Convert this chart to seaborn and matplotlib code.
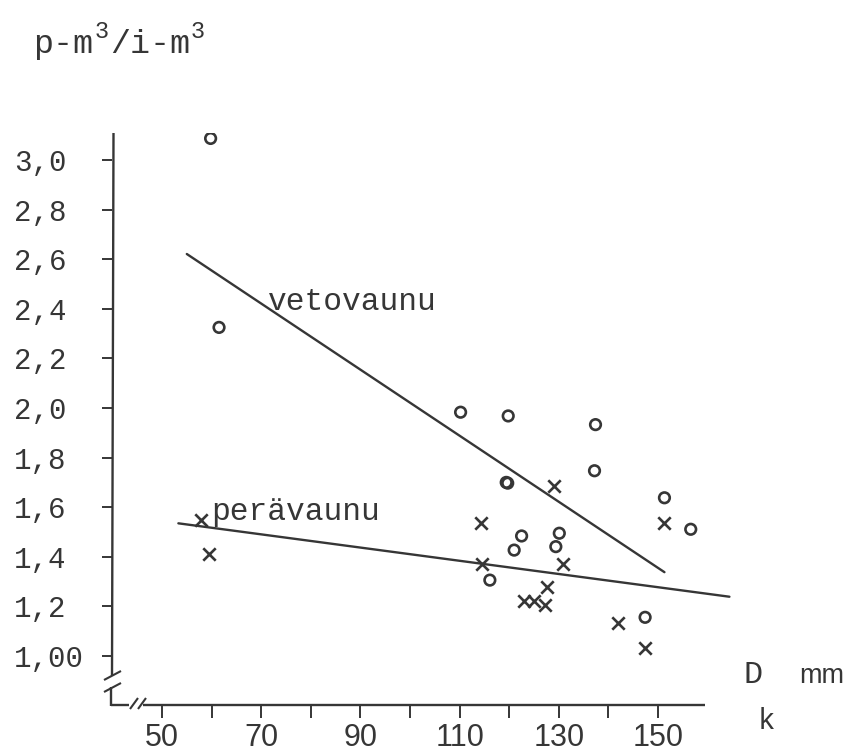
import matplotlib
matplotlib.use("Agg")
import matplotlib.pyplot as plt
from matplotlib import font_manager
from matplotlib.lines import Line2D
import numpy as np
import pandas as pd
import seaborn as sns

# ---------------- data ----------------
veto_x = [59.8, 61.5, 110.2, 119.8, 137.4, 137.2, 119.4, 119.7, 151.3, 156.6,
          122.5, 130.1, 121.0, 129.4, 116.1, 147.4]
veto_y = [3.087, 2.325, 1.983, 1.968, 1.933, 1.747, 1.700, 1.697, 1.638, 1.511,
          1.484, 1.495, 1.427, 1.441, 1.306, 1.156]

pera_x = [57.8, 59.5, 129.1, 114.3, 114.5, 130.8, 127.6, 123.0, 125.1, 127.3,
          151.3, 141.9, 147.4]
pera_y = [1.548, 1.411, 1.685, 1.538, 1.371, 1.371, 1.277, 1.223, 1.221, 1.207,
          1.535, 1.134, 1.031]

veto_line_x = [55.0, 151.3]
veto_line_y = [2.621, 1.338]
pera_line_x = [53.3, 164.4]
pera_line_y = [1.535, 1.239]

y_ticks = [1.0, 1.2, 1.4, 1.6, 1.8, 2.0, 2.2, 2.4, 2.6, 2.8, 3.0]
y_labels = ["1,00", "1,2", "1,4", "1,6", "1,8", "2,0", "2,2", "2,4", "2,6", "2,8", "3,0"]
x_ticks = [50, 60, 70, 80, 90, 100, 110, 120, 130, 140, 150]
x_labels = ["50", "", "70", "", "90", "", "110", "", "130", "", "150"]

title_parts = ["p-m", "3", "/i-m", "3"]
veto_label = "vetovaunu"
pera_label = "perävaunu"

# ---------------- style ----------------
sns.set_style("white")
names = {f.name for f in font_manager.fontManager.ttflist}
MONO = "Liberation Mono"
NARROW = "Liberation Sans Narrow" if "Liberation Sans Narrow" in names else "Liberation Sans"
plt.rcParams["font.family"] = [MONO, "DejaVu Sans"]
INK = "#363636"

W, H = 844, 753
fig = plt.figure(figsize=(W / 100, H / 100), dpi=100)
fig.patch.set_facecolor("white")

# axes: left edge = y axis (px 112), bottom = x axis (px 705)
L_px, R_px, T_px, B_px = 112, 760, 133, 705
ax = fig.add_axes([L_px / W, 1 - B_px / H, (R_px - L_px) / W, (B_px - T_px) / H])
ax.set_facecolor("white")

def px2x(p):
    return 50 + (p - 162) / 4.96

def py2y(p):
    return 1 + (656 - p) / 248.0

ax.set_xlim(px2x(L_px), px2x(R_px))
ax.set_ylim(py2y(B_px), py2y(T_px))

# ---------------- marks ----------------
sns.lineplot(x=veto_line_x, y=veto_line_y, ax=ax, color=INK, linewidth=1.7)
sns.lineplot(x=pera_line_x, y=pera_line_y, ax=ax, color=INK, linewidth=1.7)

sns.scatterplot(x=veto_x, y=veto_y, ax=ax, marker="o", s=58,
                facecolor="none", edgecolor=INK, linewidth=1.9, zorder=3)
sns.scatterplot(x=pera_x, y=pera_y, ax=ax, marker="x", s=80,
                color=INK, linewidth=1.9, zorder=3)

# ---------------- axes decoration ----------------
for s in ax.spines.values():
    s.set_visible(False)

def seg(x0, y0, x1, y1, lw=1.7):
    """segment in pixel coordinates of the figure"""
    fig.add_artist(Line2D([x0 / W, x1 / W], [1 - y0 / H, 1 - y1 / H],
                          transform=fig.transFigure, color=INK, lw=lw,
                          solid_capstyle="butt"))

# y axis with break
seg(113.5, T_px, 112, 676)
seg(104, 680, 121, 671, 1.5)       # break slash
seg(104, 692, 121, 683, 1.5)       # break slash
seg(111.5, 687, 111.5, B_px + 0.8)
# x axis with break
seg(111, B_px, 129, B_px)
seg(130, 709, 138, 698, 1.5)       # //
seg(138, 709, 146, 698, 1.5)
seg(143, B_px, 705, B_px)

ax.set_yticks(y_ticks, y_labels)
ax.set_xticks(x_ticks, x_labels)
ax.tick_params(axis="y", left=True, direction="out", length=7.2, width=1.4,
               color=INK, pad=63.5, labelsize=21, labelcolor=INK)
ax.tick_params(axis="x", bottom=True, direction="out", length=9, width=1.4,
               color=INK, pad=4, labelsize=22, labelcolor=INK)
for lab in ax.get_yticklabels():
    lab.set_horizontalalignment("left")
    lab.set_fontfamily(MONO)
for lab in ax.get_xticklabels():
    lab.set_fontfamily(NARROW)

# axis title pieces
def ftext(xp, yp, s, size, family=MONO, **kw):
    fig.text(xp / W, 1 - yp / H, s, fontsize=size, family=family, color=INK,
             va="baseline", ha="left", **kw)

ftext(33, 53, title_parts[0], 24)
ftext(95, 38, title_parts[1], 17)
ftext(110, 53, title_parts[2], 24)
ftext(191, 38, title_parts[3], 17)

ftext(743, 683, "D", 23)
ftext(758, 729, "k", 21)
ftext(799, 683, "mm", 19.5, family=NARROW)

# line labels
ax.text(px2x(268), py2y(310), veto_label, fontsize=22.5, family=MONO,
        color=INK, va="baseline", ha="left")
ax.text(px2x(211), py2y(520), pera_label, fontsize=22.5, family=MONO,
        color=INK, va="baseline", ha="left")

fig.savefig("out.png", dpi=100, facecolor="white")
